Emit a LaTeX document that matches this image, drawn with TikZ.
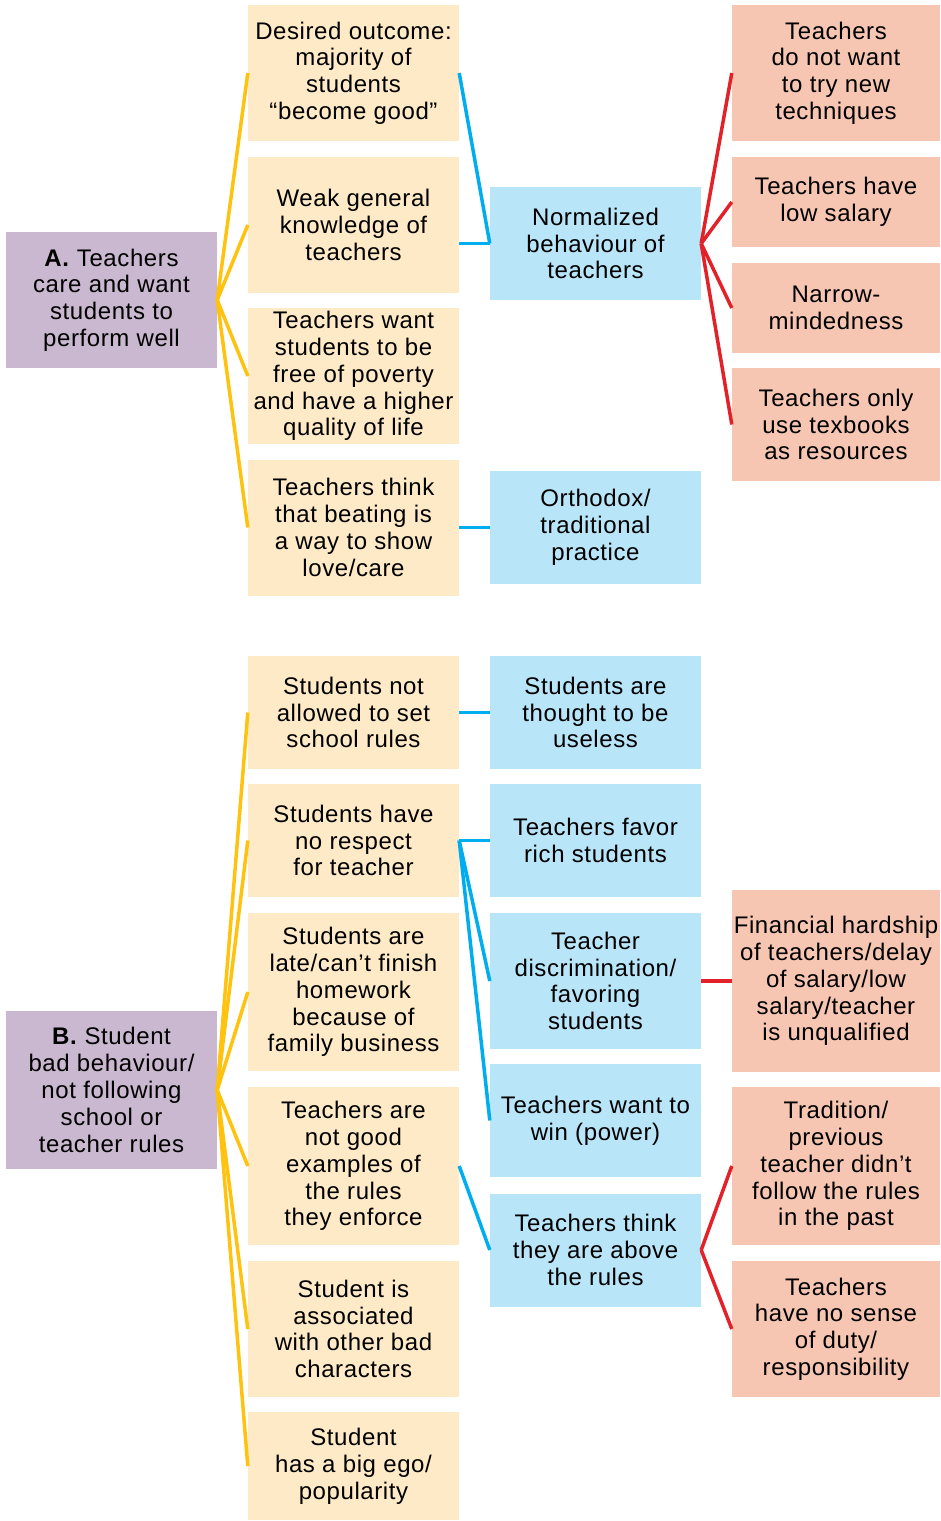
\documentclass[tikz,border=0pt]{standalone}
\usepackage{fontspec}
\setmainfont{Liberation Sans}[LetterSpace=2.5]
\definecolor{purplebox}{HTML}{C9B8CF}
\definecolor{yellowbox}{HTML}{FEEAC6}
\definecolor{bluebox}{HTML}{B9E5F9}
\definecolor{salmonbox}{HTML}{F6C6B2}
\definecolor{yellowline}{HTML}{FFC20E}
\definecolor{blueline}{HTML}{00AEEF}
\definecolor{redline}{HTML}{E32129}
\begin{document}
\begin{tikzpicture}[x=1pt,y=-1pt,
  card/.style={rectangle, inner sep=0pt, align=center, minimum width=211pt,
    font=\fontsize{24}{26.8}\selectfont, text=black},
  pbox/.style={card, fill=purplebox},
  ybox/.style={card, fill=yellowbox},
  bbox/.style={card, fill=bluebox},
  sbox/.style={card, fill=salmonbox, minimum width=208pt},
  yl/.style={draw=yellowline, line width=3.5pt},
  bl/.style={draw=blueline, line width=3.5pt},
  rl/.style={draw=redline, line width=3.5pt}]
\useasboundingbox (0,0) rectangle (940,1521);

% ---------- top section ----------
\node[pbox, minimum height=136pt] (A) at (111.5,300) {\textbf{A.} Teachers\\care and want\\students to\\perform well};
\node[ybox, minimum height=136pt] (Y1) at (353.5,73) {Desired outcome:\\majority of\\students\\“become good”};
\node[ybox, minimum height=136pt] (Y2) at (353.5,225) {Weak general\\knowledge of\\teachers};
\node[ybox, minimum height=136pt] (Y3) at (353.5,376) {Teachers want\\students to be\\free of poverty\\and have a higher\\quality of life};
\node[ybox, minimum height=136pt] (Y4) at (353.5,527.5) {Teachers think\\that beating is\\a way to show\\love/care};
\node[bbox, minimum height=113pt] (N) at (595.5,243.5) {Normalized\\behaviour of\\teachers};
\node[bbox, minimum height=113pt] (O) at (595.5,527.5) {Orthodox/\\traditional\\practice};
\node[sbox, minimum height=136pt] (S1) at (836,73) {Teachers\\do not want\\to try new\\techniques};
\node[sbox, minimum height=90pt] (S2) at (836,202) {Teachers have\\low salary};
\node[sbox, minimum height=90pt] (S3) at (836,308) {Narrow-\\mindedness};
\node[sbox, minimum height=113pt] (S4) at (836,424.5) {Teachers only\\use texbooks\\as resources};

\foreach \t in {Y1,Y2,Y3,Y4} \draw[yl] (A.east) -- (\t.west);
\draw[bl] (Y1.east) -- (N.west);
\draw[bl] (Y2.east |- N.west) -- (N.west);
\draw[bl] (Y4.east) -- (O.west);
\foreach \t in {S1,S2,S3,S4} \draw[rl] (N.east) -- (\t.west);

% ---------- bottom section ----------
\node[pbox, minimum height=158pt] (B) at (111.5,1090) {\textbf{B.} Student\\bad behaviour/\\not following\\school or\\teacher rules};
\node[ybox, minimum height=113pt] (YB1) at (353.5,712.5) {Students not\\allowed to set\\school rules};
\node[ybox, minimum height=113pt] (YB2) at (353.5,840.5) {Students have\\no respect\\for teacher};
\node[ybox, minimum height=158pt] (YB3) at (353.5,992) {Students are\\late/can’t finish\\homework\\because of\\family business};
\node[ybox, minimum height=158pt] (YB4) at (353.5,1166) {Teachers are\\not good\\examples of\\the rules\\they enforce};
\node[ybox, minimum height=136pt] (YB5) at (353.5,1329) {Student is\\associated\\with other bad\\characters};
\node[ybox, minimum height=108pt] (YB6) at (353.5,1466) {Student\\has a big ego/\\popularity};
\node[bbox, minimum height=113pt] (BB1) at (595.5,712.5) {Students are\\thought to be\\useless};
\node[bbox, minimum height=113pt] (BB2) at (595.5,840.5) {Teachers favor\\rich students};
\node[bbox, minimum height=136pt] (BB3) at (595.5,981) {Teacher\\discrimination/\\favoring\\students};
\node[bbox, minimum height=113pt] (BB4) at (595.5,1120.5) {Teachers want to\\win (power)};
\node[bbox, minimum height=113pt] (BB5) at (595.5,1250) {Teachers think\\they are above\\the rules};
\node[sbox, minimum height=182pt] (SB1) at (836,981) {Financial hardship\\of teachers/delay\\of salary/low\\salary/teacher\\is unqualified};
\node[sbox, minimum height=158pt] (SB2) at (836,1166) {Tradition/\\previous\\teacher didn’t\\follow the rules\\in the past};
\node[sbox, minimum height=136pt] (SB3) at (836,1329) {Teachers\\have no sense\\of duty/\\responsibility};

\foreach \t in {YB1,YB2,YB3,YB4,YB5,YB6} \draw[yl] (B.east) -- (\t.west);
\draw[bl] (YB1.east) -- (BB1.west);
\foreach \t in {BB2,BB3,BB4} \draw[bl] (YB2.east) -- (\t.west);
\draw[bl] (YB4.east) -- (BB5.west);
\draw[rl] (BB3.east) -- (SB1.west);
\draw[rl] (BB5.east) -- (SB2.west);
\draw[rl] (BB5.east) -- (SB3.west);
\end{tikzpicture}
\end{document}
